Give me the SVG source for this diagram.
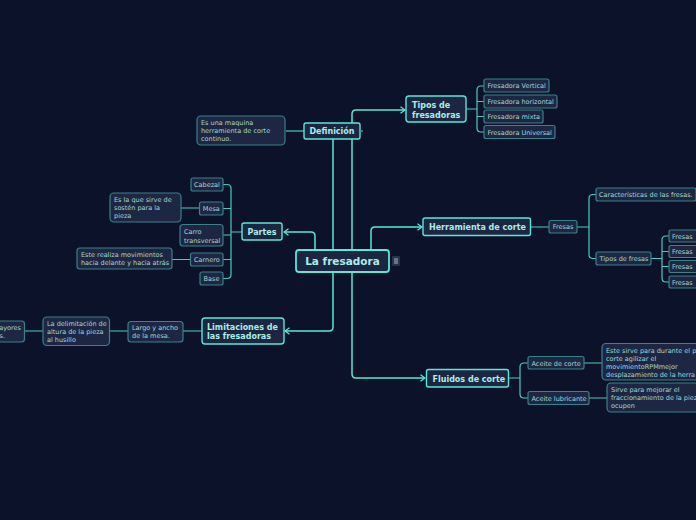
<svg xmlns="http://www.w3.org/2000/svg" width="696" height="520" viewBox="0 0 696 520">
<defs>
<marker id="arr" viewBox="0 0 6 8" markerWidth="6" markerHeight="8" refX="5" refY="4" orient="auto" markerUnits="userSpaceOnUse">
<path d="M0.5,0.8 L5,4 L0.5,7.2" fill="none" stroke="#5ce6d6" stroke-width="1.3"/>
</marker>
<style>
.bg{fill:#0b1229}
.main rect{fill:#1c2541;stroke:#5ce6d6;stroke-width:1.4}
.root rect{fill:#1c2541;stroke:#5ce6d6;stroke-width:1.8}
.sub rect{fill:#1d2743;stroke:#3c8088;stroke-width:1.2}
.mt{font-family:"DejaVu Sans",Verdana,sans-serif;font-weight:bold;font-size:8px;fill:#a8efe8}
.rt{font-family:"DejaVu Sans",Verdana,sans-serif;font-weight:bold;font-size:10.5px;fill:#a8efe8}
.st{font-family:"DejaVu Sans",Verdana,sans-serif;font-size:6.5px;fill:#a3d8d5}
.c{text-anchor:middle}
.mc{fill:none;stroke:#5ce6d6;stroke-width:1.5}
.sc{fill:none;stroke:#4fc9bd;stroke-width:1.2}
</style>
</defs>
<rect class="bg" x="0" y="0" width="696" height="520"/>

<g id="connectors">
<path class="mc" d="M315,250 V236 Q315,232 311,232 H284" marker-end="url(#arr)"/>
<path class="mc" d="M333,250 V139"/>
<path class="mc" d="M352,250 V114 Q352,110 356,110 H405" marker-end="url(#arr)"/>
<path class="mc" d="M371,250 V231 Q371,227 375,227 H422" marker-end="url(#arr)"/>
<path class="mc" d="M333,272 V327 Q333,331 329,331 H285" marker-end="url(#arr)"/>
<path class="mc" d="M352,272 V374 Q352,378 356,378 H425" marker-end="url(#arr)"/>
<path class="sc" d="M361,131 H363"/>
<path class="sc" d="M304,131 H286"/>
<path class="sc" d="M466,109 H477 M484,86 H481 Q477,86 477,90 V128 Q477,132 481,132 H484 M477,101.5 H484 M477,116.5 H484"/>
<path class="sc" d="M242,232 H231 M223,184.5 H227 Q231,184.5 231,188.5 V274.5 Q231,278.5 227,278.5 H223 M231,208.5 H223 M231,235 H223 M231,259.5 H223"/>
<path class="sc" d="M200,208 H181 M190,259.5 H172"/>
<path class="sc" d="M202,331 H183 M128,331 H110 M43,331 H25"/>
<path class="sc" d="M531,227 H549 M577,227 H589 M596,194.5 H593 Q589,194.5 589,198.5 V254.5 Q589,258.5 593,258.5 H596"/>
<path class="sc" d="M651,258.5 H662 M669,236 H666 Q662,236 662,240 V278 Q662,282 666,282 H669 M662,251.5 H669 M662,266.5 H669"/>
<path class="sc" d="M509,378 H520 M528,363 H524 Q520,363 520,367 V394 Q520,398 524,398 H528"/>
<path class="sc" d="M584,363 H602 M589,398 H607"/>
</g>

<g id="root" class="root">
<rect x="296" y="250" width="93" height="22" rx="3"/>
<text class="rt c" x="342.5" y="265">La fresadora</text>
<rect x="392" y="256" width="8" height="10" rx="1" style="fill:#27324d;stroke:none"/>
<path d="M394,259 H398 M394,261 H398 M394,263 H398" stroke="#b8c4cc" stroke-width="0.9"/>
</g>

<g id="definicion" class="main">
<rect x="304" y="123" width="56" height="16" rx="2"/>
<text class="mt c" x="332" y="134">Definición</text>
</g>
<g id="definicion-desc" class="sub">
<rect x="197" y="116" width="88" height="29" rx="4"/>
<text class="st" x="201" y="125">Es una maquina</text>
<text class="st" x="201" y="133">herramienta de corte</text>
<text class="st" x="201" y="141">continuo.</text>
</g>

<g id="tipos-fresadoras" class="main">
<rect x="406" y="96" width="60" height="26" rx="3"/>
<text class="mt" x="412" y="108">Tipos de</text>
<text class="mt" x="412" y="117.5">fresadoras</text>
</g>
<g id="fresadora-vertical" class="sub"><rect x="484" y="79" width="65" height="13" rx="2"/><text class="st" x="487.5" y="88">Fresadora Vertical</text></g>
<g id="fresadora-horizontal" class="sub"><rect x="484" y="95" width="73" height="13" rx="2"/><text class="st" x="487.5" y="104">Fresadora horizontal</text></g>
<g id="fresadora-mixta" class="sub"><rect x="484" y="110" width="59" height="13" rx="2"/><text class="st" x="487.5" y="119">Fresadora mixta</text></g>
<g id="fresadora-universal" class="sub"><rect x="484" y="125.5" width="71" height="13" rx="2"/><text class="st" x="487.5" y="134.5">Fresadora Universal</text></g>

<g id="partes" class="main">
<rect x="242" y="223" width="40" height="17" rx="2"/>
<text class="mt c" x="262" y="234.5">Partes</text>
</g>
<g id="cabezal" class="sub"><rect x="191" y="178" width="32" height="13" rx="2"/><text class="st c" x="207" y="187">Cabezal</text></g>
<g id="mesa" class="sub"><rect x="199.5" y="202" width="23.5" height="13" rx="2"/><text class="st c" x="211.3" y="211">Mesa</text></g>
<g id="mesa-desc" class="sub">
<rect x="110" y="193" width="71" height="29" rx="4"/>
<text class="st" x="114" y="202">Es la que sirve de</text>
<text class="st" x="114" y="210">sostén para la</text>
<text class="st" x="114" y="218">pieza</text>
</g>
<g id="carro" class="sub">
<rect x="180" y="224.5" width="43" height="21.5" rx="3"/>
<text class="st" x="184" y="234">Carro</text>
<text class="st" x="184" y="242.5">transversal</text>
</g>
<g id="carnero" class="sub"><rect x="190.5" y="253" width="32.5" height="13" rx="2"/><text class="st c" x="206.8" y="262">Carnero</text></g>
<g id="carnero-desc" class="sub">
<rect x="77" y="248" width="95" height="21" rx="3"/>
<text class="st" x="81" y="256.5">Este realiza movimientos</text>
<text class="st" x="81" y="264.5">hacia delante y hacia atrás</text>
</g>
<g id="base" class="sub"><rect x="200" y="272" width="23" height="13" rx="2"/><text class="st c" x="211.5" y="281">Base</text></g>

<g id="limitaciones" class="main">
<rect x="202" y="318" width="82" height="26" rx="3"/>
<text class="mt" x="207" y="329.5">Limitaciones de</text>
<text class="mt" x="207" y="338.5">las fresadoras</text>
</g>
<g id="largo" class="sub">
<rect x="128" y="321.5" width="55" height="20.5" rx="3"/>
<text class="st" x="132" y="329.5">Largo y ancho</text>
<text class="st" x="132" y="337.5">de la mesa.</text>
</g>
<g id="delimitacion" class="sub">
<rect x="43" y="317" width="66.5" height="28.5" rx="4"/>
<text class="st" x="47" y="326">La delimitación de</text>
<text class="st" x="47" y="334">altura de la pieza</text>
<text class="st" x="47" y="341.5">al husillo</text>
</g>
<g id="mayores" class="sub">
<rect x="-20" y="321" width="44.5" height="21" rx="3"/>
<text class="st" x="21" y="329.5" text-anchor="end">ayores</text>
<text class="st" x="5" y="337.5" text-anchor="end">s.</text>
</g>

<g id="herramienta" class="main">
<rect x="423" y="218" width="107.5" height="17.5" rx="2"/>
<text class="mt" x="429" y="230">Herramienta de corte</text>
</g>
<g id="fresas" class="sub"><rect x="549" y="220.5" width="28" height="12.5" rx="2"/><text class="st c" x="563" y="229.3">Fresas</text></g>
<g id="caracteristicas" class="sub"><rect x="596" y="188" width="100" height="13" rx="2"/><text class="st" x="599" y="197">Características de las fresas.</text></g>
<g id="tipos-fresas" class="sub"><rect x="596" y="252" width="55" height="13" rx="2"/><text class="st" x="599.5" y="261">Tipos de fresas</text></g>
<g id="fresas-1" class="sub"><rect x="669" y="230" width="30" height="12" rx="2"/><text class="st" x="672" y="238.5">Fresas</text></g>
<g id="fresas-2" class="sub"><rect x="669" y="245.5" width="30" height="12" rx="2"/><text class="st" x="672" y="254">Fresas</text></g>
<g id="fresas-3" class="sub"><rect x="669" y="260.5" width="30" height="12" rx="2"/><text class="st" x="672" y="269">Fresas</text></g>
<g id="fresas-4" class="sub"><rect x="669" y="276" width="30" height="12" rx="2"/><text class="st" x="672" y="284.5">Fresas</text></g>

<g id="fluidos" class="main">
<rect x="426.5" y="369.5" width="82" height="17.5" rx="2"/>
<text class="mt" x="432.5" y="381.5">Fluidos de corte</text>
</g>
<g id="aceite-corte" class="sub"><rect x="528" y="356.5" width="56" height="12.5" rx="2"/><text class="st" x="531.5" y="365.5">Aceite de corte</text></g>
<g id="aceite-lubricante" class="sub"><rect x="528" y="391.5" width="61" height="13" rx="2"/><text class="st" x="531.5" y="400.5">Aceite lubricante</text></g>
<g id="aceite-corte-desc" class="sub">
<rect x="602" y="343.5" width="100" height="36.5" rx="4"/>
<text class="st" x="606" y="353">Este sirve para durante el p</text>
<text class="st" x="606" y="361">corte agilizar el</text>
<text class="st" x="606" y="369">movimientoRPMmejor</text>
<text class="st" x="606" y="376.5">desplazamiento de la herra</text>
</g>
<g id="aceite-lubricante-desc" class="sub">
<rect x="607" y="383" width="95" height="29" rx="4"/>
<text class="st" x="611" y="391.5">Sirve para mejorar el</text>
<text class="st" x="611" y="399.5">fraccionamiento de la piez</text>
<text class="st" x="611" y="407.5">ocupen</text>
</g>
</svg>
